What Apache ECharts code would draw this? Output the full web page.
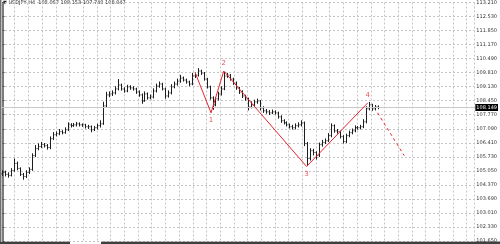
<!DOCTYPE html>
<html><head><meta charset="utf-8">
<script src="https://cdn.jsdelivr.net/npm/echarts@6/dist/echarts.min.js"></script>
<style>html,body{margin:0;padding:0;background:#fff}#c{width:500px;height:244px}</style>
</head><body><div id="c"></div>
<script>
const title = "\u25BC USDJPY,H4  108.067 108.153 107.749 108.047";
const opens = [104.90,104.97,104.88,104.83,105.07,105.41,105.17,104.88,104.78,104.97,
105.12,105.79,106.13,106.23,106.32,106.27,106.18,106.61,106.80,106.85,
106.95,106.90,107.04,107.28,107.24,107.28,107.33,107.28,107.28,107.19,
107.19,107.04,107.14,107.24,107.33,108.20,108.73,108.78,108.83,109.02,
109.21,109.02,108.92,109.12,109.07,109.02,108.87,108.73,108.44,108.78,
108.59,108.63,108.92,109.16,109.26,109.02,108.68,108.83,109.12,109.26,
109.40,109.55,109.45,109.36,109.26,109.65,109.69,109.89,109.79,109.50,
109.12,108.59,108.25,108.54,108.78,109.02,109.65,109.69,109.50,109.31,
109.07,108.87,108.68,108.54,108.15,108.25,108.39,108.44,108.10,107.96,
107.91,107.86,107.91,107.86,107.67,107.48,107.38,107.28,107.19,107.14,
107.24,107.28,107.38,106.37,105.65,106.03,105.94,105.79,106.32,106.42,
106.51,106.76,107.24,106.99,106.95,106.71,106.47,106.76,106.90,106.99,
107.14,107.14,107.19,107.43,108.06,108.25,108.06,108.15];
const closes = [104.97,104.88,104.83,105.07,105.41,105.17,104.88,104.78,104.97,105.12,
105.79,106.13,106.23,106.32,106.27,106.18,106.61,106.80,106.85,106.95,
106.90,107.04,107.28,107.24,107.28,107.33,107.28,107.28,107.19,107.19,
107.04,107.14,107.24,107.33,108.20,108.73,108.78,108.83,109.02,109.21,
109.02,108.92,109.12,109.07,109.02,108.87,108.73,108.44,108.78,108.59,
108.63,108.92,109.16,109.26,109.02,108.68,108.83,109.12,109.26,109.40,
109.55,109.45,109.36,109.26,109.65,109.69,109.89,109.79,109.50,109.12,
108.59,108.25,108.54,108.78,109.02,109.65,109.69,109.50,109.31,109.07,
108.87,108.68,108.54,108.15,108.25,108.39,108.44,108.10,107.96,107.91,
107.86,107.91,107.86,107.67,107.48,107.38,107.28,107.19,107.14,107.24,
107.28,107.38,106.37,105.65,106.03,105.94,105.79,106.32,106.42,106.51,
106.76,107.24,106.99,106.95,106.71,106.47,106.76,106.90,106.99,107.14,
107.14,107.19,107.43,108.06,108.25,108.06,108.15,108.12];
const highs = [105.08,105.06,104.98,105.18,105.65,105.50,105.22,104.95,105.08,105.22,
105.90,106.30,106.38,106.45,106.40,106.35,106.72,106.93,106.96,107.08,
107.02,107.16,107.40,107.36,107.37,107.42,107.40,107.35,107.33,107.28,
107.25,107.22,107.33,107.50,108.40,108.88,108.90,108.95,109.15,109.50,
109.28,109.10,109.22,109.20,109.15,109.08,108.95,108.80,108.90,108.85,
108.75,109.05,109.28,109.38,109.32,109.08,108.95,109.25,109.38,109.52,
109.70,109.62,109.52,109.42,109.80,109.82,110.03,109.95,109.84,109.56,
109.18,108.66,108.62,108.88,109.15,109.84,109.80,109.74,109.56,109.38,
109.12,108.95,108.74,108.60,108.42,108.50,108.55,108.48,108.18,108.05,
108.00,108.02,107.98,107.92,107.74,107.55,107.45,107.34,107.28,107.35,
107.40,107.50,107.44,106.45,106.15,106.12,106.00,106.42,106.55,106.62,
106.88,107.35,107.30,107.08,107.00,106.78,106.85,107.00,107.10,107.25,
107.22,107.28,107.55,108.18,108.39,108.30,108.24,108.22];
const lows = [104.80,104.78,104.72,104.78,105.00,105.08,104.80,104.62,104.70,104.90,
105.05,105.72,106.05,106.15,106.18,106.08,106.10,106.55,106.72,106.78,
106.82,106.85,106.98,107.15,107.18,107.20,107.20,107.18,107.10,107.08,
106.92,106.98,107.06,107.15,107.28,108.12,108.62,108.68,108.75,108.95,
108.94,108.84,108.86,108.98,108.94,108.78,108.64,108.30,108.40,108.50,
108.52,108.56,108.85,109.08,108.95,108.55,108.60,108.76,109.05,109.18,
109.32,109.38,109.28,109.15,109.20,109.55,109.62,109.70,109.42,109.04,
108.50,108.01,108.18,108.46,108.70,108.96,109.56,109.42,109.22,108.98,
108.78,108.58,108.45,107.98,108.08,108.18,108.30,107.98,107.86,107.82,
107.76,107.80,107.78,107.58,107.38,107.30,107.20,107.10,107.05,107.06,
107.15,107.20,106.25,105.31,105.55,105.80,105.60,105.72,106.22,106.35,
106.45,106.68,106.90,106.85,106.62,106.38,106.40,106.68,106.82,106.92,
107.05,107.06,107.12,107.35,107.98,107.96,107.98,108.04];
// zigzag (bar index, price)
const waveX = [65.2, 70.5, 74.8, 102.8, 123.5];
const waveY = [109.79, 107.86, 109.89, 105.26, 108.35];
const waveLabels = ["", "1", "2", "3", "4"];
const projX = [126.8, 135.8];
const projY = [107.86, 105.79];
const bidPrice = 108.12;
const bidLabel = "108.149";

const chart = echarts.init(document.getElementById('c'), null, {renderer:'canvas'});
const ohlc = opens.map((o,i)=>[i,o,closes[i],lows[i],highs[i]]);
const wave = waveX.map((x,i)=>[x,waveY[i]]);
const labelPts = waveX.map((x,i)=>({value:[x,waveY[i]], label:{position: (i===2||i===4)?'top':'bottom'}})).filter((d,i)=>waveLabels[i]!=="");
const RED = '#e8262e';
chart.setOption({
  animation:false,
  backgroundColor:'#ffffff',
  grid:{left:1, right:18, top:1, bottom:3},
  xAxis:{type:'value', min:-0.5, max:159.5, interval:4.63,
    axisLine:{show:false}, axisTick:{show:false}, axisLabel:{show:false},
    splitLine:{show:true, lineStyle:{color:'#c4c4c4', type:[2,2], width:1}}},
  yAxis:{type:'value', position:'right', min:101.65, max:113.21, interval:0.68,
    axisLine:{show:true, lineStyle:{color:'#505050', width:1.5}},
    axisTick:{show:true, length:2, lineStyle:{color:'#505050'}},
    axisLabel:{fontSize:5, color:'#333', margin:2, fontFamily:'DejaVu Sans',
      formatter:v=>v.toFixed(3)},
    splitLine:{show:true, lineStyle:{color:'#c4c4c4', type:[2,2], width:1}}},
  series:[
    {type:'custom', data:ohlc, clip:true,
     encode:{x:0, y:[1,2,3,4]},
     renderItem:function(params, api){
       const i=api.value(0);
       const o=api.coord([i,api.value(1)]), c=api.coord([i,api.value(2)]);
       const l=api.coord([i,api.value(3)]), h=api.coord([i,api.value(4)]);
       const x=Math.round(o[0])+0.5;
       const st={stroke:'#1e1e1e', lineWidth:1};
       return {type:'group', children:[
         {type:'line', shape:{x1:x,y1:h[1],x2:x,y2:l[1]}, style:st},
         {type:'line', shape:{x1:x-1,y1:o[1],x2:x,y2:o[1]}, style:st},
         {type:'line', shape:{x1:x,y1:c[1],x2:x+1,y2:c[1]}, style:st}
       ]};
     },
     markLine:{silent:true, symbol:'none', animation:false,
       lineStyle:{color:'#c8c8c8', type:'solid', width:1},
       label:{show:true, position:'end', formatter:bidLabel, color:'#fff', backgroundColor:'#000',
         fontSize:5, padding:[1,1,1,1], distance:1, fontFamily:'DejaVu Sans'},
       data:[{yAxis:bidPrice}]}
    },
    {type:'line', data:wave, symbol:'none', lineStyle:{color:RED, width:1}, z:5},
    {type:'line', data:projX.map((x,i)=>[x,projY[i]]), symbol:'none', lineStyle:{color:RED, width:1, type:[3,3]}, z:5},
    {type:'scatter', data:labelPts, symbolSize:0, z:6,
      label:{show:true, color:RED, fontSize:7, distance:4, fontFamily:'DejaVu Sans',
        formatter:p=>waveLabels[waveX.indexOf(p.value[0])]}}
  ],
  graphic:[
    {type:'text', left:3, top:0, style:{text:title, fontSize:5, fill:'#222', fontFamily:'DejaVu Sans'}},
    {type:'rect', shape:{x:0,y:0,width:1.5,height:242}, style:{fill:'#707070'}},
    {type:'rect', shape:{x:0,y:241.5,width:70,height:2.5}, style:{fill:'#404040'}},
    {type:'rect', shape:{x:101,y:241.5,width:399,height:2.5}, style:{fill:'#404040'}}
  ]
});
</script></body></html>
